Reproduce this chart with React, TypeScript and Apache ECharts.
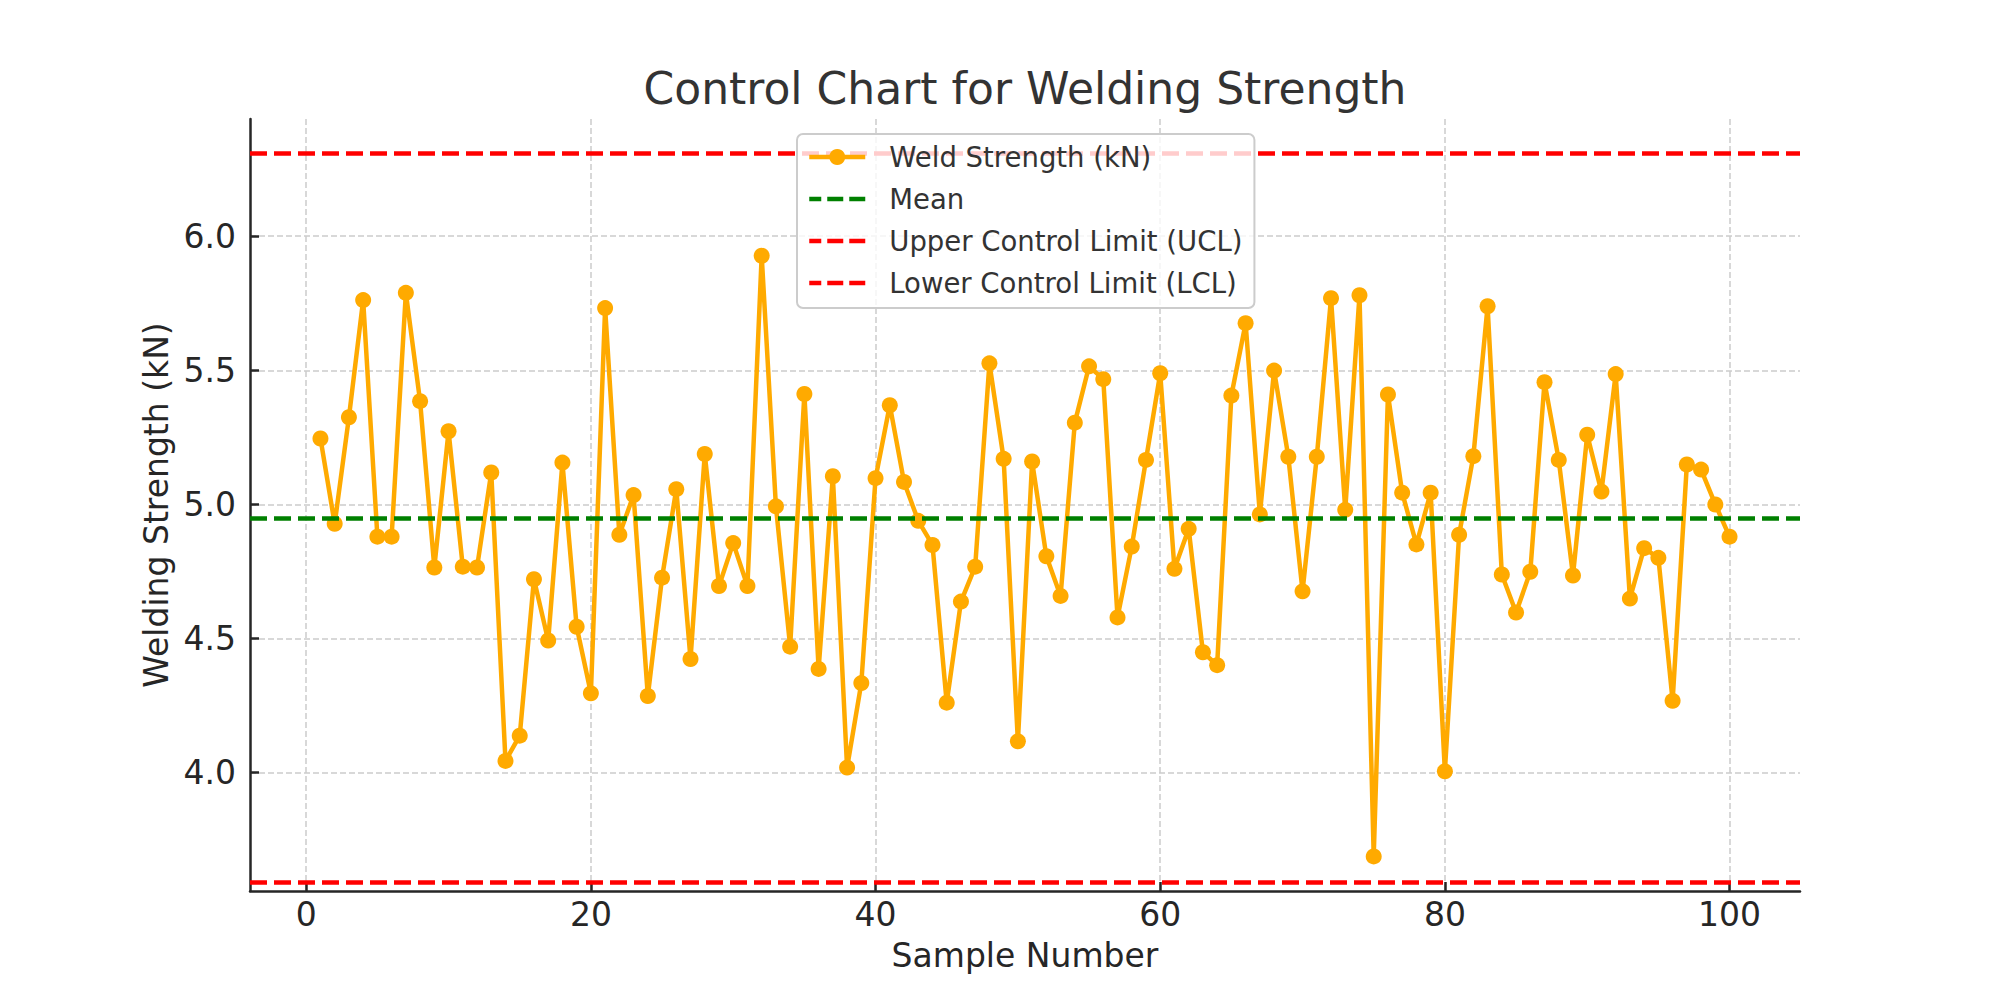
import React, { useEffect, useRef } from 'react';
import * as echarts from 'echarts';

// sample index 1..100
const sampleNumbers: number[] = Array.from({ length: 100 }, (_, i) => i + 1);

// weld strength per sample (kN)
const weldStrength: number[] = [
  5.246, 4.928, 5.325, 5.762, 4.880, 4.880, 5.789, 5.385, 4.765, 5.273,
  4.768, 4.765, 5.119, 4.044, 4.138, 4.721, 4.493, 5.156, 4.544, 4.296,
  5.732, 4.887, 5.035, 4.286, 4.727, 5.057, 4.424, 5.188, 4.696, 4.856,
  4.696, 5.927, 4.993, 4.470, 5.412, 4.387, 5.105, 4.019, 4.334, 5.098,
  5.370, 5.084, 4.939, 4.849, 4.261, 4.638, 4.768, 5.526, 5.170, 4.117,
  5.160, 4.807, 4.659, 5.305, 5.515, 5.467, 4.579, 4.843, 5.166, 5.489,
  4.760, 4.909, 4.449, 4.401, 5.406, 5.676, 4.963, 5.499, 5.178, 4.676,
  5.178, 5.769, 4.980, 5.780, 3.688, 5.410, 5.044, 4.851, 5.044, 4.005,
  4.887, 5.180, 5.739, 4.739, 4.597, 4.749, 5.456, 5.166, 4.735, 5.260,
  5.048, 5.486, 4.649, 4.837, 4.801, 4.268, 5.149, 5.130, 5.000, 4.880,
];

const MEAN = 4.948;
const UCL = 6.306;
const LCL = 3.591;

const xTicks = [0, 20, 40, 60, 80, 100];
const yTicks = [4.0, 4.5, 5.0, 5.5, 6.0];
const xRange = [-3.95, 104.95];
const yRange = [3.559, 6.437];

const FONT = 'DejaVu Sans';
const INK = '#262626';
const ORANGE = '#ffaa00';
const DASH_ICON = 'path://M0,0H12V4.5H0Z M18,0H34V4.5H18Z M40,0H56V4.5H40Z';

const App: React.FC = () => {
  const chartRef = useRef<HTMLDivElement>(null);

  useEffect(() => {
    if (!chartRef.current) return;
    const chart = echarts.init(chartRef.current, undefined, { renderer: 'svg' });

    const axisLine = { show: true, onZero: false, lineStyle: { color: INK, width: 2.5 } };
    const tickStyle = { color: INK, width: 2.5 };
    const gridLine = { show: true, lineStyle: { type: [6, 3], color: '#cccccc', width: 1.5 } };

    // horizontal reference line drawn across the whole plot (like axhline)
    const controlLine = (name: string, color: string, value: number) => ({
      name,
      type: 'line',
      data: [],
      symbol: 'none',
      itemStyle: { color },
      lineStyle: { color },
      z: 3,
      markLine: {
        silent: true,
        z: 3,
        symbol: 'none',
        label: { show: false },
        emphasis: { disabled: true },
        lineStyle: { color, width: 4.5, type: [17, 7] },
        data: [{ yAxis: value }],
      },
    });

    const option: any = {
      animation: false,
      backgroundColor: '#ffffff',
      textStyle: { fontFamily: FONT },
      title: {
        text: 'Control Chart for Welding Strength',
        left: 1025,
        top: 66,
        textAlign: 'center',
        padding: 0,
        textStyle: { fontSize: 44, fontWeight: 'normal', color: '#333333', fontFamily: FONT },
      },
      legend: {
        orient: 'vertical',
        left: 797,
        top: 134,
        z: 10,
        padding: [8, 12, 10, 10],
        itemWidth: 56,
        itemHeight: 20,
        itemGap: 12,
        backgroundColor: 'rgba(255,255,255,0.8)',
        borderColor: '#cccccc',
        borderWidth: 2,
        borderRadius: 6,
        selectedMode: false,
        textStyle: { fontSize: 27.5, color: '#333333', lineHeight: 30, fontFamily: FONT, padding: [0, 0, 0, 19] },
        data: [
          { name: 'Weld Strength (kN)', lineStyle: { width: 4.5, color: ORANGE } },
          { name: 'Mean', icon: DASH_ICON, itemStyle: { color: '#008000', borderWidth: 0 } },
          { name: 'Upper Control Limit (UCL)', icon: DASH_ICON, itemStyle: { color: '#ff0000', borderWidth: 0 } },
          { name: 'Lower Control Limit (LCL)', icon: DASH_ICON, itemStyle: { color: '#ff0000', borderWidth: 0 } },
        ],
      },
      grid: { left: 250, right: 200, top: 119, bottom: 109, containLabel: false, outerBoundsMode: 'none' },
      xAxis: {
        type: 'value',
        min: xRange[0],
        max: xRange[1],
        name: 'Sample Number',
        nameLocation: 'middle',
        nameGap: 48,
        nameTextStyle: { fontSize: 33, color: INK, fontFamily: FONT },
        axisLine,
        axisTick: { show: true, inside: true, length: 9, customValues: xTicks, lineStyle: tickStyle },
        axisLabel: { customValues: xTicks, fontSize: 33, color: INK, margin: 7, fontFamily: FONT },
        splitLine: gridLine,
      },
      yAxis: {
        type: 'value',
        min: yRange[0],
        max: yRange[1],
        name: 'Welding Strength (kN)',
        nameLocation: 'middle',
        nameGap: 77,
        nameTextStyle: { fontSize: 33, color: INK, fontFamily: FONT },
        axisLine,
        axisTick: { show: true, inside: true, length: 9, customValues: yTicks, lineStyle: tickStyle },
        axisLabel: {
          customValues: yTicks,
          fontSize: 33,
          color: INK,
          margin: 14,
          fontFamily: FONT,
          formatter: (v: number) => v.toFixed(1),
        },
        splitLine: gridLine,
      },
      series: [
        {
          name: 'Weld Strength (kN)',
          type: 'line',
          data: sampleNumbers.map((n, i) => [n, weldStrength[i]]),
          symbol: 'circle',
          symbolSize: 16,
          showAllSymbol: true,
          lineStyle: { color: ORANGE, width: 4.5 },
          itemStyle: { color: ORANGE },
          emphasis: { disabled: true },
          z: 2,
        },
        controlLine('Mean', '#008000', MEAN),
        controlLine('Upper Control Limit (UCL)', '#ff0000', UCL),
        controlLine('Lower Control Limit (LCL)', '#ff0000', LCL),
      ],
    };

    chart.setOption(option);

    return () => {
      chart.dispose();
    };
  }, []);

  return (
    <div
      ref={chartRef}
      style={{ position: 'absolute', left: 0, top: 0, width: 2000, height: 1000 }}
    />
  );
};

export default App;
